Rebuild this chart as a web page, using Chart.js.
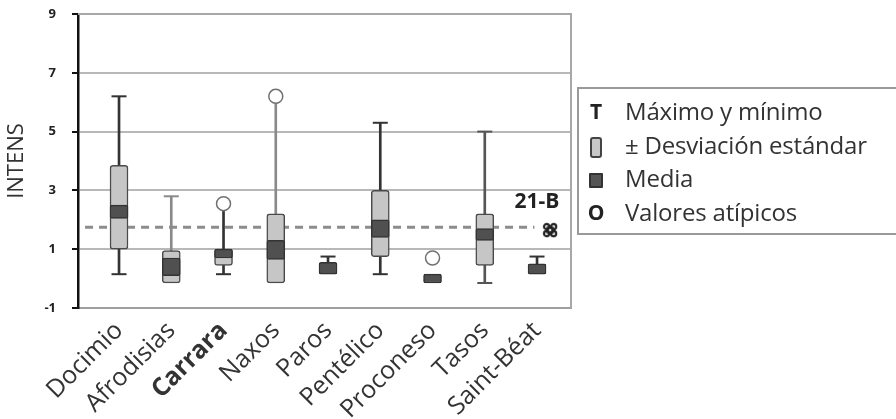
<!DOCTYPE html>
<html>
<head>
<meta charset="utf-8">
<script src="https://cdn.jsdelivr.net/npm/chart.js@4.4.1/dist/chart.umd.min.js"></script>
<style>
  html, body { margin: 0; padding: 0; background: #fff; }
  #wrap { position: relative; width: 896px; height: 419px; overflow: hidden; }
  #legend { position: absolute; left: 577px; top: 87px; width: 330px; height: 148px;
    border: 2px solid #9a9a9a; box-sizing: border-box; font-family: "Open Sans", sans-serif;
    font-size: 24px; color: #333; }
  .row { position: absolute; left: 0; height: 32px; line-height: 32px; white-space: nowrap; }
  .sym { position: absolute; left: 6px; width: 22px; text-align: center; font-weight: bold; color: #222; font-size: 21px; }
  .txt { position: absolute; left: 46px; letter-spacing: -0.2px; }
  .sdbox { display: inline-block; width: 8px; height: 17px; background: #c8c8c8; border: 2px solid #444; border-radius: 3px; vertical-align: middle; }
  .meanbox { display: inline-block; width: 10px; height: 11px; background: #555; border: 2px solid #333; border-radius: 1px; vertical-align: middle; }
</style>
</head>
<body>
<div id="wrap">
  <canvas id="c" width="896" height="419"></canvas>
  <div id="legend"></div>
</div>
<script>
// ---- data ----
const categories = ['Docimio','Afrodisias','Carrara','Naxos','Paros','Pentélico','Proconeso','Tasos','Saint-Béat'];
const highlightCategory = 'Carrara';
const whiskerLow  = [0.15, 0.9, 0.15, 2.2, 0.5, 0.15, null, -0.15, 0.5];
const whiskerHigh = [6.2, 2.8, 2.35, 6.2, 0.75, 5.3, null, 5.0, 0.75];
const capTop      = [6.2, 2.8, null, null, 0.75, 5.3, null, 5.0, 0.75];
const capBottom   = [0.15, null, 0.15, null, null, 0.15, null, -0.15, null];
const sdLow       = [1.0, -0.15, 0.45, -0.15, null, 0.75, null, 0.45, null];
const sdHigh      = [3.85, 0.95, 1.0, 2.2, null, 3.0, null, 2.2, null];
const meanLow     = [2.05, 0.1, 0.7, 0.65, 0.15, 1.4, -0.15, 1.3, 0.15];
const meanHigh    = [2.5, 0.7, 1.0, 1.3, 0.55, 2.0, 0.15, 1.7, 0.5];
const outliers    = [null, null, 2.55, 6.2, null, null, 0.7, null, null];
const referenceValue = 1.75;
const sampleLabel = '21-B';
const sampleValue = 1.65;
const yTicks = [-1, 1, 3, 5, 7, 9];
const legendItems = [
  {sym: 'T', text: 'Máximo y mínimo'},
  {sym: 'sd', text: '± Desviación estándar'},
  {sym: 'mean', text: 'Media'},
  {sym: 'O', text: 'Valores atípicos'}
];

// ---- styles ----
const whiskerColors = ['#333','#8a8a8a','#333','#8a8a8a','#333','#333','#333','#555','#333'];
const FONT = '"Open Sans", sans-serif';

function pts(lo, hi) {
  return categories.map((c, i) => (lo[i] == null ? null : {x: i, y: [lo[i], hi[i]]})).filter(Boolean);
}
function single(arr) {
  return categories.map((c, i) => (arr[i] == null ? null : {x: i, y: arr[i]})).filter(Boolean);
}

// custom marker for the sample
const mk = document.createElement('canvas');
mk.width = 16; mk.height = 16;
(function(){
  const g = mk.getContext('2d');
  g.strokeStyle = '#222'; g.lineWidth = 2.2;
  [[4.5,4.5],[11.5,4.5],[4.5,11.5],[11.5,11.5]].forEach(([x,y]) => { g.beginPath(); g.arc(x, y, 2.6, 0, Math.PI*2); g.stroke(); });
  g.strokeRect(5.5, 5.5, 5, 5);
})();

const sampleX = categories.length - 1 + 0.25;

const framePlugin = {
  id: 'frame',
  beforeDatasetsDraw(chart) {
    const {ctx, chartArea: a} = chart;
    ctx.save();
    ctx.strokeStyle = '#a8a8a8'; ctx.lineWidth = 2;
    ctx.beginPath(); ctx.moveTo(a.left, a.top); ctx.lineTo(a.right, a.top); ctx.lineTo(a.right, a.bottom); ctx.stroke();
    ctx.restore();
  },
  afterDatasetsDraw(chart) {
    const {ctx, scales} = chart;
    ctx.save();
    ctx.font = 'bold 21px ' + FONT;
    ctx.fillStyle = '#222'; ctx.textAlign = 'center'; ctx.textBaseline = 'middle';
    ctx.fillText(sampleLabel, scales.x.getPixelForValue(categories.length - 1), scales.y.getPixelForValue(2.6));
    ctx.restore();
  }
};

new Chart(document.getElementById('c'), {
  type: 'bar',
  data: {
    datasets: [
      { type: 'line', data: [{x: -0.65, y: referenceValue}, {x: categories.length - 1.05, y: referenceValue}],
        borderColor: '#8c8c8c', borderWidth: 3, borderDash: [8, 6], pointRadius: 0, order: 8 },
      { type: 'bar', data: pts(whiskerLow, whiskerHigh), grouped: false, barThickness: 2,
        backgroundColor: ctx => whiskerColors[ctx.raw ? ctx.raw.x : 0], borderWidth: 0, order: 6 },
      { type: 'scatter', data: single(capTop).concat(single(capBottom)), pointStyle: 'line', pointRadius: 7.5,
        borderWidth: 2, borderColor: ctx => whiskerColors[ctx.raw ? ctx.raw.x : 0], order: 5 },
      { type: 'bar', data: pts(sdLow, sdHigh), grouped: false, barThickness: 18,
        backgroundColor: '#c6c6c6', borderColor: '#4a4a4a', borderWidth: 1.5, borderRadius: 3, borderSkipped: false, order: 4 },
      { type: 'bar', data: pts(meanLow, meanHigh), grouped: false, barThickness: 18,
        backgroundColor: '#505050', borderColor: '#333', borderWidth: 1.5, borderRadius: 2, borderSkipped: false, order: 3 },
      { type: 'scatter', data: single(outliers), pointStyle: 'circle', pointRadius: 7,
        backgroundColor: '#fff', borderColor: '#707070', borderWidth: 1.5, order: 2 },
      { type: 'scatter', data: [{x: sampleX, y: sampleValue}], pointStyle: mk, order: 1 }
    ]
  },
  options: {
    responsive: false, animation: false,
    layout: { padding: { top: 14, right: 325, left: 0, bottom: 0 } },
    plugins: { legend: { display: false }, tooltip: { enabled: false } },
    scales: {
      x: {
        type: 'linear', min: -0.785, max: 8.65, offset: false,
        afterBuildTicks: s => { s.ticks = categories.map((c, i) => ({value: i})); },
        afterFit: s => { s.height = 111; },
        grid: { display: false },
        border: { color: '#a0a0a0', width: 2 },
        ticks: {
          autoSkip: false, minRotation: 45, maxRotation: 45, padding: 0, color: '#333',
          callback: v => categories[v],
          font: ctx => ({ family: FONT, size: 25, weight: (ctx.tick && categories[ctx.tick.value] === highlightCategory) ? 'bold' : 'normal' })
        }
      },
      y: {
        min: -1, max: 9,
        afterBuildTicks: s => { s.ticks = yTicks.map(v => ({value: v})); },
        afterFit: s => { s.width = 78; s.paddingTop = 8; s.paddingBottom = 8; },
        grid: { color: '#b8b8b8', lineWidth: 2, tickColor: '#111', tickLength: 6, tickWidth: 2 },
        border: { color: '#111', width: 2.5 },
        ticks: { color: '#222', padding: 16, font: { family: FONT, size: 13, weight: 'bold' } },
        title: { display: true, text: 'INTENS', color: '#333', padding: { top: 4, bottom: 0 }, font: { family: FONT, size: 22 } }
      }
    }
  },
  plugins: [framePlugin]
});

// legend (HTML text)
const lg = document.getElementById('legend');
const rowTops = [6, 40, 73, 107];
legendItems.forEach((it, k) => {
  const r = document.createElement('div');
  r.className = 'row'; r.style.top = rowTops[k] + 'px';
  const s = document.createElement('span'); s.className = 'sym';
  if (it.sym === 'sd') s.innerHTML = '<span class="sdbox"></span>';
  else if (it.sym === 'mean') s.innerHTML = '<span class="meanbox"></span>';
  else s.textContent = it.sym;
  const t = document.createElement('span'); t.className = 'txt'; t.textContent = it.text;
  r.appendChild(s); r.appendChild(t); lg.appendChild(r);
});
</script>
</body>
</html>
